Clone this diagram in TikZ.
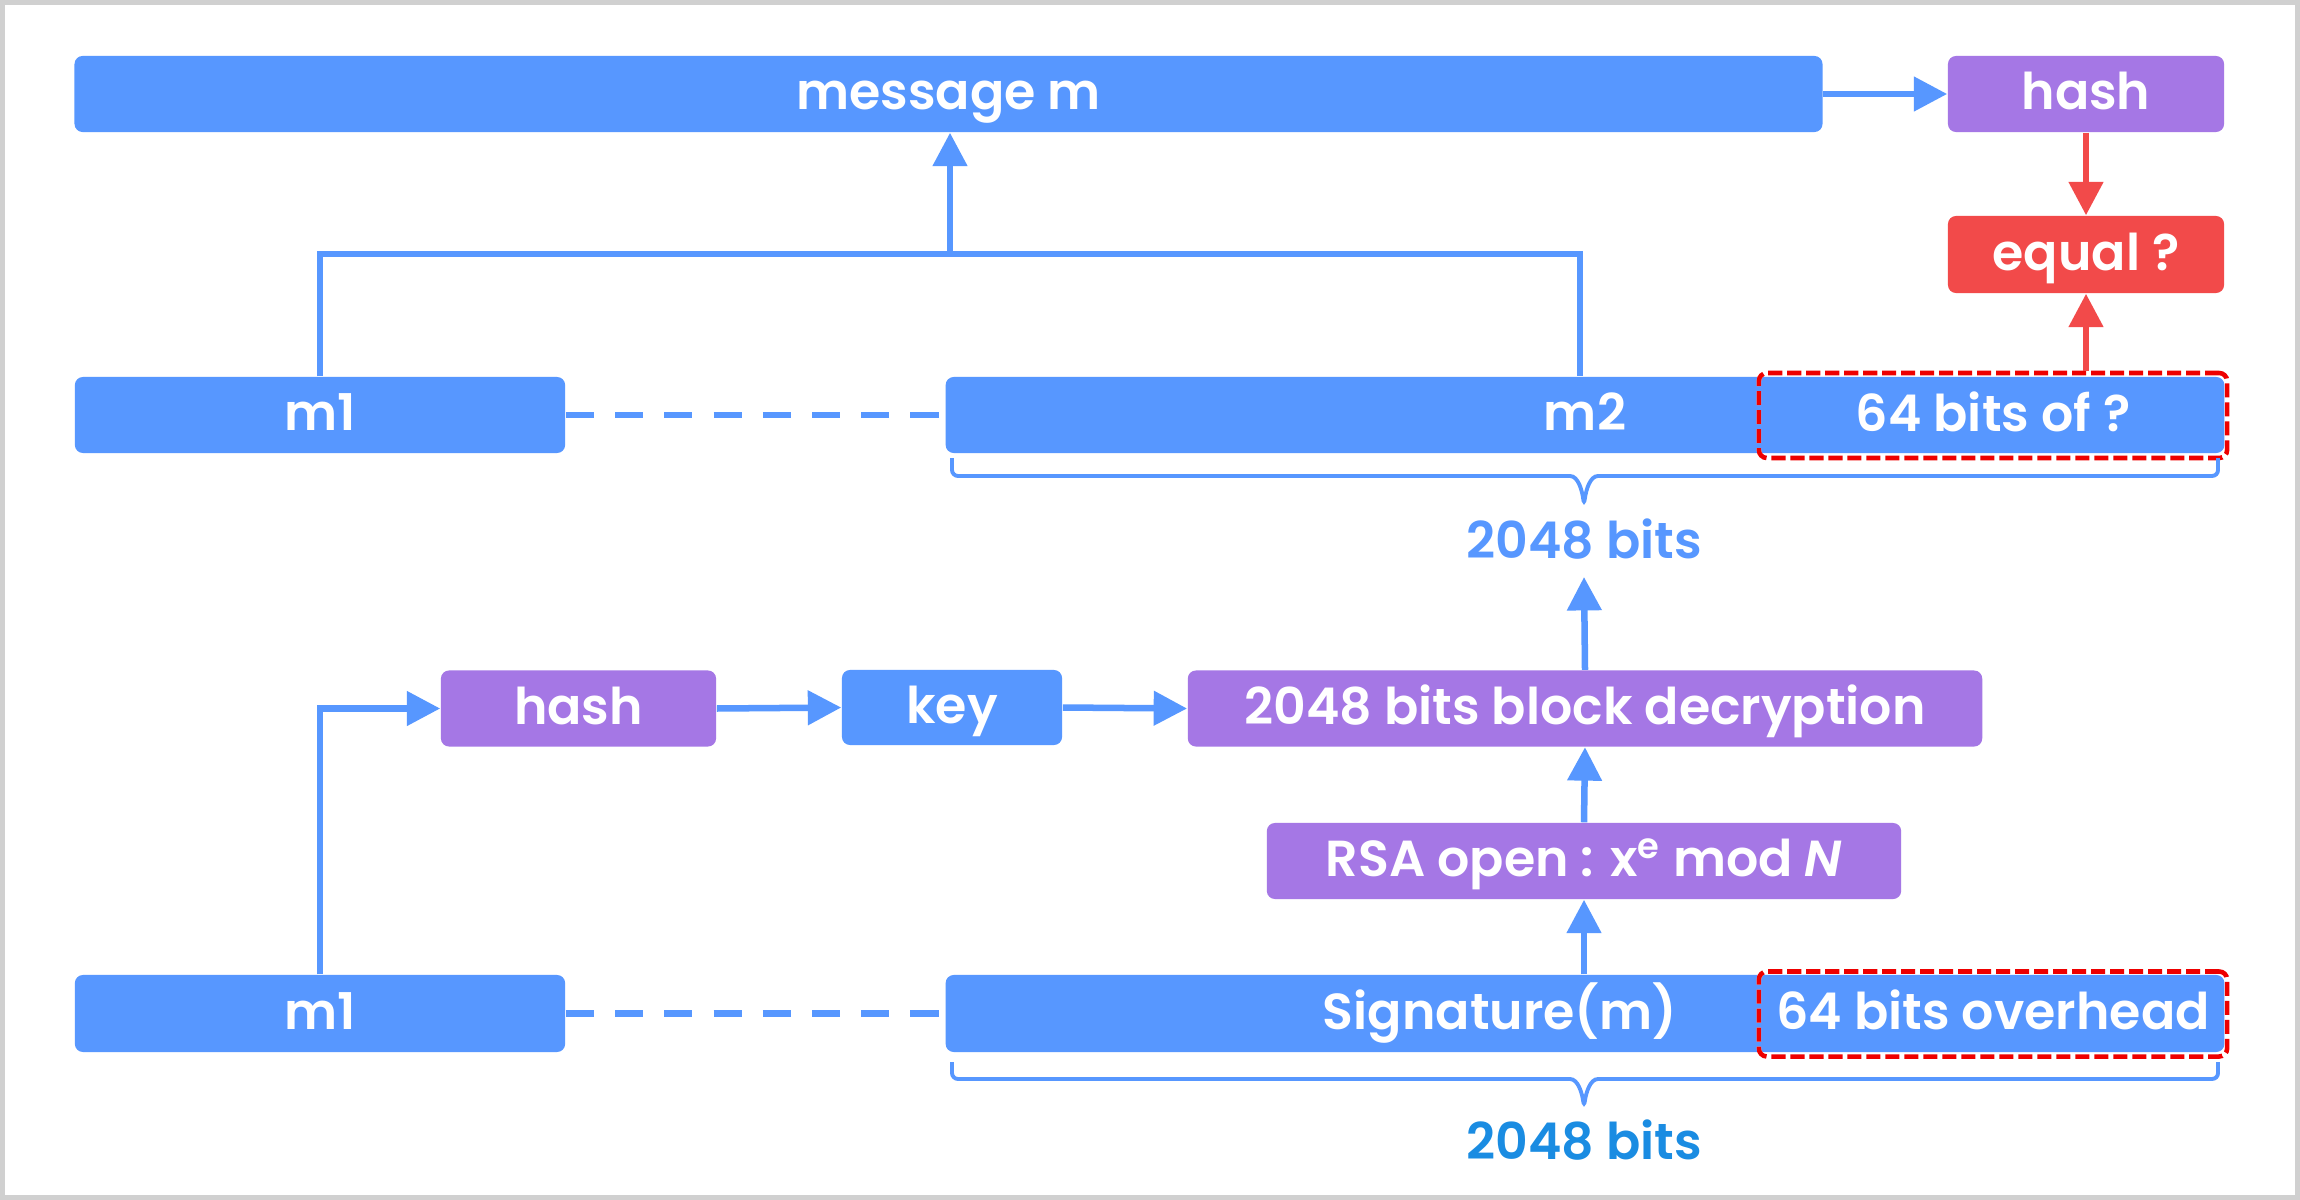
\documentclass[tikz,border=0pt]{standalone}
\usepackage{fontspec}
\setmainfont{Poppins}[BoldFont={Poppins SemiBold},BoldItalicFont={Poppins SemiBold Italic}]
\usetikzlibrary{arrows.meta,calc}
\definecolor{cblue}{HTML}{5797FF}
\definecolor{cpurple}{HTML}{A577E5}
\definecolor{cred}{HTML}{F24A4A}
\definecolor{cdash}{HTML}{EE0000}
\definecolor{cblue2}{HTML}{1A8CE2}
\definecolor{cgray}{HTML}{D0D0D0}
\begin{document}
\begin{tikzpicture}[x=0.01cm,y=-0.01cm,
  tf/.style={font=\bfseries\fontsize{14.4}{17}\selectfont, text height=0.9em, text depth=0pt},
  box/.style={tf, rounded corners=2.3pt, inner sep=0pt, text=white, minimum height=0.76cm},
  bbox/.style={box, fill=cblue},
  pbox/.style={box, fill=cpurple},
  rbox/.style={box, fill=cred},
  txt/.style={tf, inner sep=0pt, text=white},
  dbox/.style={tf, inner sep=0pt, text=white, rounded corners=2.3pt,
    preaction={draw=white, line width=1.3pt},
    draw=cdash, line width=1.3pt, dash pattern=on 4pt off 1.4pt},
  lbl/.style={tf, inner sep=0pt},
  ln/.style={draw=cblue, line width=1.85pt},
  arr/.style={ln, -{Triangle[length=9.5pt,width=9.5pt]}},
  rarr/.style={draw=cred, line width=1.85pt, -{Triangle[length=9.5pt,width=9.5pt]}},
  dl/.style={ln, dash pattern=on 8pt off 6pt},
  brc/.style={draw=cblue, line width=1.1pt, rounded corners=0.06cm}
]
\fill[white] (0,0) rectangle (2300,1200);
\draw[cgray, line width=0.05cm] (2.5,2.5) rectangle (2297.5,1197.5);
\useasboundingbox (0,0) rectangle (2300,1200);

% top part
\node[bbox, minimum width=17.47cm] (msg) at (948.5,94) {message m};
\node[pbox, minimum width=2.76cm] (hashT) at (2086,94) {hash};
\node[rbox, minimum width=2.76cm, minimum height=0.77cm] (eq) at (2086,254.5) {equal ?};
\node[bbox, minimum width=4.90cm] (m1T) at (320,415) {m1};
\node[bbox, minimum width=12.78cm] (m2) at (1585,415) {m2};
\node[dbox, minimum width=4.68cm, minimum height=0.85cm] (q64) at (1993,415.5) {64 bits of ?};
\node[lbl, text=cblue] (b1) at (1584,543) {2048 bits};
\coordinate (t1) at (1584,577);

% bottom part
\node[pbox, minimum width=2.75cm] (hashB) at (578.5,708.5) {hash};
\node[bbox, minimum width=2.20cm, minimum height=0.75cm] (key) at (952,707.5) {key};
\node[pbox, minimum width=7.94cm] (dec) at (1585,708.5) {2048 bits block decryption};
\node[pbox, minimum width=6.34cm] (rsa) at (1584,861) {RSA open : x\textsuperscript{e} mod \textit{N}};
\node[bbox, minimum width=4.90cm, minimum height=0.77cm] (m1B) at (320,1013.5) {m1};
\node[bbox, minimum width=12.78cm, minimum height=0.77cm] (sig) at (1585,1013.5) {};
\node[txt] (sigt) at (1500,1013.5) {Signature(m)};
\node[dbox, minimum width=4.68cm, minimum height=0.85cm] (ov) at (1993,1014) {64 bits overhead};
\node[lbl, text=cblue2] (b2) at (1584,1144) {2048 bits};

% connectors top
\coordinate (j) at (950,254);
\coordinate (m2top) at ($(m2.north)+(-5,0)$);
\draw[ln] (m1T.north) |- (j) -| (m2top);
\draw[arr] (j) -- (j |- msg.south);
\draw[arr] (msg.east) -- (hashT.west);
\draw[rarr] (hashT.south) -- (eq.north);
\draw[rarr] (eq.south |- q64.north) -- (eq.south);
\draw[dl] (m1T.east) -- (m2.west);
\draw[arr] (dec.north) -- (t1);

% connectors bottom
\draw[arr] (m1B.north) |- (hashB.west);
\draw[arr] (hashB.east) -- (key.west);
\draw[arr] (key.east) -- (dec.west);
\draw[arr] (rsa.north) -- (dec.south);
\draw[arr] (rsa.south |- sig.north) -- (rsa.south);
\draw[dl] (m1B.east) -- (sig.west);

% braces
\draw[brc] (952,458) -- (952,476) -- (1564,476) .. controls (1578,476) and (1582,490) .. (1584,505) .. controls (1586,490) and (1590,476) .. (1604,476) -- (2218,476) -- (2218,458);
\draw[brc] (952,1062) -- (952,1079) -- (1564,1079) .. controls (1578,1079) and (1582,1093) .. (1584,1107) .. controls (1586,1093) and (1590,1079) .. (1604,1079) -- (2218,1079) -- (2218,1062);
\end{tikzpicture}
\end{document}
